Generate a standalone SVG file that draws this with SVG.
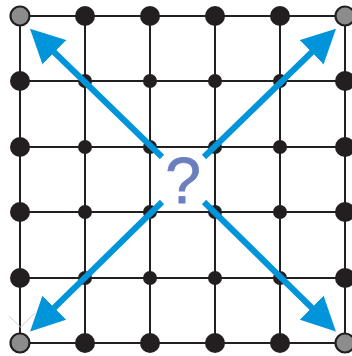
<svg xmlns="http://www.w3.org/2000/svg" width="352" height="356" viewBox="0 0 352 356">
<style>
.grid line{stroke:#231f20;stroke-width:2}
.n{fill:#231f20}
.c{fill:#8c8c8c;stroke:#231f20;stroke-width:2.2}
.arr{stroke:#0095da;stroke-width:6;fill:none}
.q{font-family:"Liberation Sans",Arial,sans-serif;font-size:64px;fill:#6b7fbe;stroke:#6b7fbe;stroke-width:0.8}
</style>
<defs>
<marker id="ah" markerUnits="userSpaceOnUse" viewBox="0 0 34 34" markerWidth="34" markerHeight="34" refX="0.5" refY="17" orient="auto">
<path d="M0,0 L34,17 L0,34 z" fill="#0095da"/>
</marker>
</defs>
<g class="grid">
<line x1="20" y1="16" x2="345" y2="16"/>
<line x1="20" y1="81" x2="345" y2="81"/>
<line x1="20" y1="147" x2="345" y2="147"/>
<line x1="20" y1="212" x2="345" y2="212"/>
<line x1="20" y1="278" x2="345" y2="278"/>
<line x1="20" y1="343" x2="345" y2="343"/>
<line x1="20" y1="16" x2="20" y2="343"/>
<line x1="85" y1="16" x2="85" y2="343"/>
<line x1="150" y1="16" x2="150" y2="343"/>
<line x1="215" y1="16" x2="215" y2="343"/>
<line x1="280" y1="16" x2="280" y2="343"/>
<line x1="345" y1="16" x2="345" y2="343"/>
</g>
<g stroke="#d0d0d0" stroke-width="1" fill="none">
<path d="M9,316 L20.5,327 L35,313"/>
</g>
<g id="corners">
<circle id="n-0-0" class="c" cx="20" cy="16" r="9.5"/>
<circle id="n-5-0" class="c" cx="345" cy="16" r="9.5"/>
<circle id="n-0-5" class="c" cx="20" cy="343" r="9.5"/>
<circle id="n-5-5" class="c" cx="345" cy="343" r="9.5"/>
</g>
<g id="edges">
<circle id="n-1-0" class="n" cx="85" cy="16" r="10"/>
<circle id="n-2-0" class="n" cx="150" cy="16" r="10"/>
<circle id="n-3-0" class="n" cx="215" cy="16" r="10"/>
<circle id="n-4-0" class="n" cx="280" cy="16" r="10"/>
<circle id="n-1-5" class="n" cx="85" cy="343" r="10"/>
<circle id="n-2-5" class="n" cx="150" cy="343" r="10"/>
<circle id="n-3-5" class="n" cx="215" cy="343" r="10"/>
<circle id="n-4-5" class="n" cx="280" cy="343" r="10"/>
<circle id="n-0-1" class="n" cx="20" cy="81" r="10"/>
<circle id="n-0-2" class="n" cx="20" cy="147" r="10"/>
<circle id="n-0-3" class="n" cx="20" cy="212" r="10"/>
<circle id="n-0-4" class="n" cx="20" cy="278" r="10"/>
<circle id="n-5-1" class="n" cx="345" cy="81" r="10"/>
<circle id="n-5-2" class="n" cx="345" cy="147" r="10"/>
<circle id="n-5-3" class="n" cx="345" cy="212" r="10"/>
<circle id="n-5-4" class="n" cx="345" cy="278" r="10"/>
</g>
<g id="interior">
<circle id="n-1-1" class="n" cx="85" cy="81" r="7"/>
<circle id="n-2-1" class="n" cx="150" cy="81" r="7"/>
<circle id="n-3-1" class="n" cx="215" cy="81" r="7"/>
<circle id="n-4-1" class="n" cx="280" cy="81" r="7"/>
<circle id="n-1-2" class="n" cx="85" cy="147" r="7"/>
<circle id="n-2-2" class="n" cx="150" cy="147" r="7"/>
<circle id="n-3-2" class="n" cx="215" cy="147" r="7"/>
<circle id="n-4-2" class="n" cx="280" cy="147" r="7"/>
<circle id="n-1-3" class="n" cx="85" cy="212" r="7"/>
<circle id="n-2-3" class="n" cx="150" cy="212" r="7"/>
<circle id="n-3-3" class="n" cx="215" cy="212" r="7"/>
<circle id="n-4-3" class="n" cx="280" cy="212" r="7"/>
<circle id="n-1-4" class="n" cx="85" cy="278" r="7"/>
<circle id="n-2-4" class="n" cx="150" cy="278" r="7"/>
<circle id="n-3-4" class="n" cx="215" cy="278" r="7"/>
<circle id="n-4-4" class="n" cx="280" cy="278" r="7"/>
</g>
<g id="connectors" class="arr">
<line x1="162" y1="157" x2="54" y2="52" marker-end="url(#ah)"/>
<line x1="204" y1="157" x2="312" y2="52" marker-end="url(#ah)"/>
<line x1="162" y1="202" x2="54" y2="308" marker-end="url(#ah)"/>
<line x1="204" y1="202" x2="312" y2="308" marker-end="url(#ah)"/>
</g>
<g id="label">
<text class="q" x="183" y="203" text-anchor="middle">?</text>
</g>
</svg>
